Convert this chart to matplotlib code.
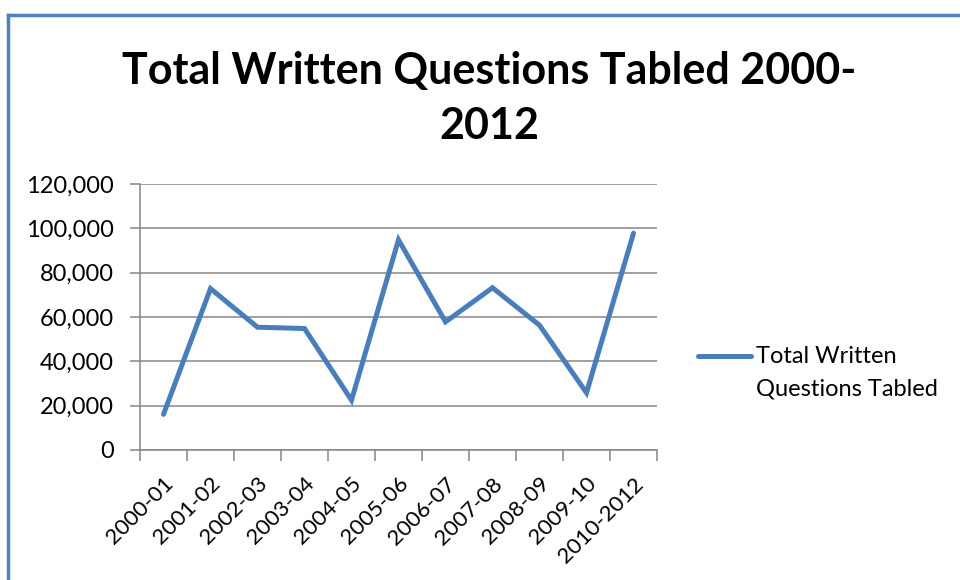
import matplotlib.pyplot as plt
from matplotlib.lines import Line2D
from matplotlib.ticker import FuncFormatter

# data
periods = ['2000-01', '2001-02', '2002-03', '2003-04', '2004-05', '2005-06',
           '2006-07', '2007-08', '2008-09', '2009-10', '2010-2012']
questions = [16100, 72800, 55400, 54800, 22500, 94800,
             57800, 73200, 56300, 25800, 97800]
yticks = [0, 20000, 40000, 60000, 80000, 100000, 120000]
series_name = 'Total Written\nQuestions Tabled'

blue = '#4A7EBB'
grid_grey = '#868686'
plt.rcParams['font.family'] = ['Lato', 'DejaVu Sans']

fig = plt.figure(figsize=(9.6, 5.8), dpi=100)
ax = fig.add_axes([140 / 960, 1 - 450 / 580, 517 / 960, 266 / 580])

x = list(range(len(periods)))
ax.plot(x, questions, color=blue, lw=3.6, solid_capstyle='round',
        solid_joinstyle='miter')

ax.set_xlim(-0.5, len(periods) - 0.5)
ax.set_ylim(0, 120000)
ax.set_yticks(yticks)
ax.yaxis.set_major_formatter(FuncFormatter(lambda v, p: f'{int(v):,}'))
ax.grid(axis='y', color=grid_grey, lw=1.1)
ax.set_axisbelow(True)

# category ticks sit between the labels, like Excel
ax.set_xticks([i - 0.5 for i in range(len(periods) + 1)])
ax.set_xticklabels([])
ax.set_xticks(x, minor=True)
ax.set_xticklabels(periods, minor=True, rotation=45, ha='right',
                   rotation_mode='anchor', fontsize=16)
ax.tick_params(axis='x', which='minor', length=0, pad=17)
ax.tick_params(axis='x', which='major', length=8, color=grid_grey, width=1.1)
ax.tick_params(axis='y', length=7, color=grid_grey, width=1.1, labelsize=17, pad=12)

for s in ['top', 'right']:
    ax.spines[s].set_visible(False)
for s in ['left', 'bottom']:
    ax.spines[s].set_color(grid_grey)
    ax.spines[s].set_linewidth(1.1)

fig.text(0.51, 1 - 71 / 580, 'Total Written Questions Tabled 2000-',
         ha='center', va='center', fontsize=31, fontweight='bold')
fig.text(0.51, 1 - 126 / 580, '2012',
         ha='center', va='center', fontsize=31, fontweight='bold')

# legend: short line next to the first line of the two-line label
leg_y = 1 - 356 / 580
fig.add_artist(Line2D([698 / 960, 751 / 960], [leg_y, leg_y],
                      transform=fig.transFigure, color=blue, lw=3.6,
                      solid_capstyle='round'))
fig.text(756 / 960, 1 - 346 / 580, series_name, ha='left', va='top',
         fontsize=17, linespacing=1.7)

# outer chart frame (only top and left edges are visible)
fig.add_artist(Line2D([8 / 960, 1], [1 - 15 / 580, 1 - 15 / 580],
                      transform=fig.transFigure, color='#4F81BD', lw=2.5))
fig.add_artist(Line2D([8 / 960, 8 / 960], [0, 1 - 15 / 580],
                      transform=fig.transFigure, color='#4F81BD', lw=2.5))

fig.savefig('out.png', dpi=100)
